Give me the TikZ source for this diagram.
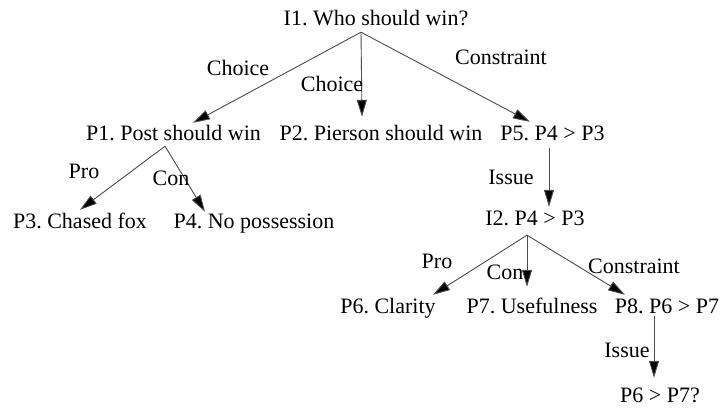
\documentclass[tikz,border=0pt]{standalone}
\usepackage{fontspec}
\setmainfont{Liberation Serif}
\usetikzlibrary{arrows.meta,calc}
\frenchspacing

\begin{document}
\begin{tikzpicture}[
    x=1pt, y=-1pt,
    every node/.style={font=\fontsize{22}{26}\selectfont, text=black},
    claim/.style={anchor=base, inner sep=2pt, text height=15pt, text depth=5pt},
    lbl/.style={anchor=base, inner sep=0pt},
    link/.style={draw=black!70, line width=0.9pt,
                 -{Triangle[length=17pt,width=10pt,fill=black]}}
  ]
  \path[use as bounding box, fill=white] (0,0) rectangle (720,407);

  % issues and positions
  \node[claim] (I1) at (376,25)  {I1. Who should win?};
  \node[claim] (P1) at (173.5,140) {P1. Post should win};
  \node[claim] (P2) at (381,140) {P2. Pierson should win};
  \node[claim] (P5) at (552.5,140) {P5. P4 > P3};
  \node[claim] (P3) at (80,228)  {P3. Chased fox};
  \node[claim] (P4) at (254,228) {P4. No possession};
  \node[claim] (I2) at (535,225) {I2. P4 > P3};
  \node[claim] (P6) at (388,313) {P6. Clarity};
  \node[claim] (P7) at (532,313) {P7. Usefulness};
  \node[claim] (P8) at (667,313) {P8. P6 > P7};
  \node[claim] (Q)  at (660,402) {P6 > P7?};

  % links from I1
  \draw[link] ($(I1.south)+(-15,0)$) -- ($(P1.north)+(19.5,0)$);
  \draw[link] ($(I1.south)+(-15,0)$) -- ($(P2.north)+(-19,-6)$);
  \draw[link] ($(I1.south)+(-15,0)$) -- ($(P5.north)+(-22.5,-1)$);

  % links from P1
  \draw[link] ($(P1.south)+(-8.5,-1)$) -- ($(P3.north)+(0,-1)$);
  \draw[link] ($(P1.south)+(-8.5,-1)$) -- ($(P4.north)+(-49,1)$);

  % P5 raises I2
  \draw[link] ($(P5.south)+(-3.5,1)$) -- ($(I2.north)+(14,-1)$);

  % links from I2
  \draw[link] ($(I2.south)+(-8,3)$) -- ($(P6.north)+(45,-1)$);
  \draw[link] ($(I2.south)+(-8,3)$) -- ($(P7.north)+(-5,-9)$);
  \draw[link] ($(I2.south)+(-8,3)$) -- ($(P8.north)+(-42,-1)$);

  % P8 raises the last issue
  \draw[link] ($(P8.south)+(-13,-4)$) -- ($(Q.north)+(-6,-7)$);

  % link labels
  \node[lbl] (l1) at (238,75)  {Choice};
  \node[lbl] (l2) at (332,91)  {Choice};
  \node[lbl] (l3) at (501,64)  {Constraint};
  \node[lbl] (l4) at (84,178)  {Pro};
  \node[lbl] (l5) at (171,185) {Con};
  \node[lbl] (l6) at (511,184) {Issue};
  \node[lbl] (l7) at (437,268) {Pro};
  \node[lbl] (l8) at (505,279) {Con};
  \node[lbl] (l9) at (634,273) {Constraint};
  \node[lbl] (l10) at (627,357) {Issue};
\end{tikzpicture}
\end{document}
